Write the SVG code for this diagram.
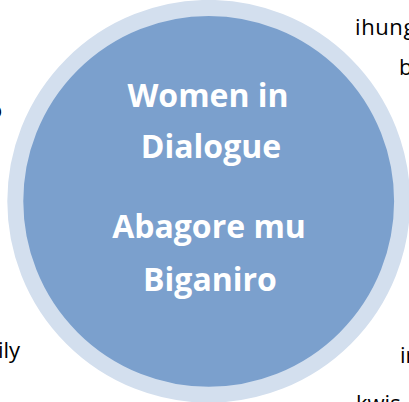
<svg xmlns="http://www.w3.org/2000/svg" width="409" height="402" viewBox="0 0 409 402">
<style>
.title{font-family:"Open Sans","Liberation Sans",sans-serif;font-weight:bold;font-size:32px;fill:#ffffff;text-anchor:middle}
.side{font-family:"Open Sans","Liberation Sans",sans-serif;font-size:22px;fill:#000000}
</style>
<rect width="409" height="402" fill="#ffffff"/>
<g id="side-text">
<text class="side" x="355" y="35" letter-spacing="0.6">ihung</text>
<text class="side" x="399" y="75">b</text>
<text class="side" x="-11" y="118">o</text>
<text class="side" x="-2" y="358">ily</text>
<text class="side" x="400" y="363">ir</text>
<text class="side" x="356" y="411">kwis</text>
</g>
<g id="node-women-in-dialogue">
<circle cx="208.7" cy="201.3" r="193.4" fill="#7ba0cd" stroke="#d3dfee" stroke-width="16"/>
<text class="title" x="208" y="107">Women in</text>
<text class="title" x="211" y="158">Dialogue</text>
<text class="title" x="209" y="238">Abagore mu</text>
<text class="title" x="210" y="291">Biganiro</text>
</g>
<g id="connectors"/>
</svg>
